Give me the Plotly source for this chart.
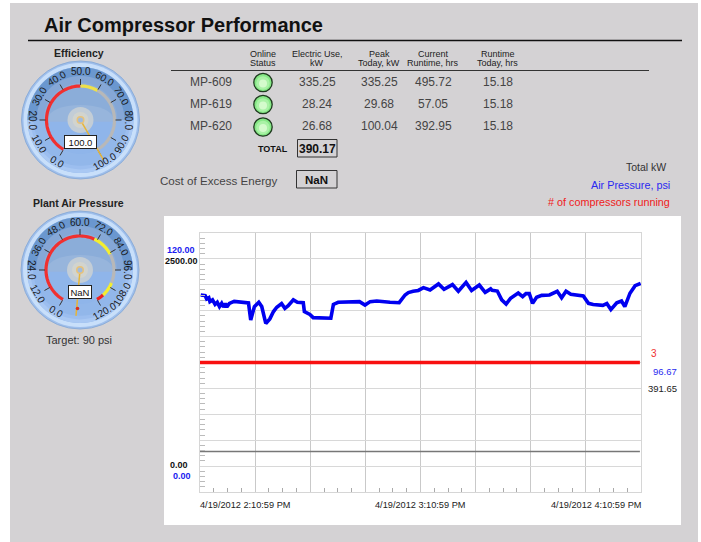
import math
import pandas as pd
import plotly.graph_objects as go

W, H = 701, 542
START = pd.Timestamp("2012-04-19 14:10:59")

# ---- data ----
pressure_minutes = [0.2,1.4,1.8,2.4,2.7,3.4,4.1,4.7,5.3,5.9,6.4,6.9,7.3,8.0,9.3,10.9,13.2,13.8,14.8,16.0,16.8,17.9,19.0,20.0,20.9,22.2,23.1,24.0,25.4,26.5,28.1,28.4,29.9,30.8,35.6,36.3,37.6,43.4,44.9,46.3,48.1,51.7,54.2,55.8,56.7,58.0,59.4,60.8,62.6,64.9,66.4,68.7,70.3,72.4,73.9,76.0,77.6,79.1,79.5,80.9,82.1,83.3,84.5,86.6,87.8,88.7,89.6,90.5,91.6,93.0,95.1,97.2,98.4,99.6,100.9,104.3,105.7,107.0,108.7,109.6,110.7,111.8,113.4,114.7,115.6,117.0,118.4,119.9]
pressure_psi = [91.3,91.0,89.4,90.0,88.2,89.0,86.9,87.9,85.9,87.4,85.7,87.3,85.7,87.4,88.3,87.9,87.6,79.7,85.9,87.9,85.9,78.1,80.2,83.6,85.6,87.3,85.1,86.3,89.0,87.9,87.7,83.6,82.3,80.8,80.5,86.9,87.9,88.2,86.6,88.2,88.5,87.9,87.7,91.3,92.4,93.0,93.4,94.7,93.6,96.4,93.9,96.1,93.0,97.1,93.4,95.9,92.5,94.1,93.4,93.1,89.0,87.1,89.7,92.2,90.5,91.9,91.9,87.4,90.2,91.1,91.3,93.0,90.0,93.0,91.6,90.8,87.4,86.9,86.9,86.5,87.3,84.5,87.7,88.5,85.9,92.1,95.6,96.67]
kw_minutes = [0.0, 50.0, 60.0, 66.0, 90.0, 119.7]
kw_values = [391.0, 391.0, 391.0, 396.0, 391.0, 391.65]
running_minutes = [0.0, 119.7]
running_values = [3, 3]

y_kw_max, y_psi_max, y_running_max = 2500, 120, 6

table_headers = [("Online", "Status"), ("Electric Use,", "kW"), ("Peak", "Today, kW"), ("Current", "Runtime, hrs"), ("Runtime", "Today, hrs")]
compressors = ["MP-609", "MP-619", "MP-620"]
electric_use = ["335.25", "28.24", "26.68"]
peak_today = ["335.25", "29.68", "100.04"]
current_runtime = ["495.72", "57.05", "392.95"]
runtime_today = ["15.18", "15.18", "15.18"]

eff_bands = [(0, 50, "#f03030"), (50, 60, "#eee04a"), (60, 100, "#b8b8b8")]
psi_bands = [(0, 70, "#f03030"), (70, 85, "#f4ee30"), (85, 105, "#b8b8b8"), (105, 115, "#f4ee30"), (115, 120, "#ee2020")]

# ---- helpers (pixel positions to paper fractions) ----
shapes, ann = [], []
def px(x): return x / W
def py(y): return 1 - y / H
def rect(x0, y0, x1, y1, fill=None, line=None, lw=1):
    shapes.append(dict(type="rect", xref="paper", yref="paper", x0=px(x0), x1=px(x1), y0=py(y0), y1=py(y1),
                       fillcolor=fill or "rgba(0,0,0,0)", line=dict(color=line or "rgba(0,0,0,0)", width=lw if line else 0), layer="below"))
def ell(cx, cy, rx, ry=None, fill=None, line=None, lw=1):
    ry = ry or rx
    shapes.append(dict(type="circle", xref="paper", yref="paper", x0=px(cx-rx), x1=px(cx+rx), y0=py(cy+ry), y1=py(cy-ry),
                       fillcolor=fill or "rgba(0,0,0,0)", line=dict(color=line or "rgba(0,0,0,0)", width=lw if line else 0), layer="below"))
def seg(x0, y0, x1, y1, color, lw=1):
    shapes.append(dict(type="line", xref="paper", yref="paper", x0=px(x0), x1=px(x1), y0=py(y0), y1=py(y1),
                       line=dict(color=color, width=lw), layer="below"))
def pt(cx, cy, r, a):
    t = math.radians(a)
    return cx + r * math.sin(t), cy - r * math.cos(t)
def arc_path(cx, cy, r, a0, a1, closed=False):
    n = max(4, int(abs(a1 - a0) / 3))
    pts = [pt(cx, cy, r, a0 + (a1 - a0) * i / n) for i in range(n + 1)]
    s = "M " + " L ".join(f"{px(x):.5f},{py(y):.5f}" for x, y in pts)
    return s + (" Z" if closed else "")
def arc(cx, cy, r, a0, a1, color, lw):
    shapes.append(dict(type="path", xref="paper", yref="paper", path=arc_path(cx, cy, r, a0, a1),
                       line=dict(color=color, width=lw), layer="below"))
def chord(cx, cy, r, a0, a1, fill):
    shapes.append(dict(type="path", xref="paper", yref="paper", path=arc_path(cx, cy, r, a0, a1, True),
                       fillcolor=fill, line=dict(color="rgba(0,0,0,0)", width=0), layer="below"))
def text(x, y, s, size=12, color="#333", bold=False, anchor="center", angle=0, **kw):
    if anchor == "left":
        x -= 2
    elif anchor == "right":
        x += 2
    ann.append(dict(xref="paper", yref="paper", x=px(x), y=py(y), text=f"<b>{s}</b>" if bold else s, showarrow=False,
                    xanchor=anchor, yanchor="middle", textangle=angle, font=dict(size=size, color=color, family="Liberation Sans"), **kw))

def gauge(cx, cy, vmax, step, bands, needle_value, label, box_w, box_y):
    ang = lambda v: -150 + 300 * v / vmax
    ell(cx, cy, 59, fill="#9fbfec", line="#8cadd8", lw=1)
    ell(cx, cy, 57, fill="#c8dffa")
    ell(cx, cy, 53, fill="#8fb5ea")
    for r, col in [(53, "#a9c8f3"), (50, "#9cbeef"), (47, "#92b7ea")]:
        ell(cx, cy + (53 - r) * -0.2, r, fill=col)
    chord(cx, cy, 53, -90, 90, "#6a97cf")
    chord(cx, cy, 44, -90, 90, "#85a7d6")
    chord(cx, cy, 37, -90, 90, "#8badd9")
    ell(cx, cy - 1, 33, 14, fill="#97b5dc")
    chord(cx, cy + 0.5, 33.5, 92, 268, "#8fb5ea")
    for lo, hi, col in bands:
        arc(cx, cy, 34, ang(lo), ang(hi), col, 3.2)
    v = 0
    while v <= vmax + 1e-6:
        a = ang(v)
        x0, y0 = pt(cx, cy, 35, a)
        x1, y1 = pt(cx, cy, 41, a)
        seg(x0, y0, x1, y1, "#333", 1)
        tx, ty = pt(cx, cy, 48, a)
        rot = a if -90 < a <= 90 else (a + 180 if a < 0 else a - 180)
        text(tx, ty, f"{v:.1f}", size=10, color="#1a1a1a", angle=rot)
        v += step
    ell(cx, cy, 13, fill="#c3cdd6")
    ell(cx, cy, 8, fill="#d2d4ce")
    x1, y1 = pt(cx, cy, 46, ang(needle_value))
    seg(cx, cy, x1, y1, "#e6b53a", 1.5)
    ell(cx, cy, 4, fill="#e8c27a")
    ell(cx, cy, 2.5, fill="#9fbbe0")
    ann.append(dict(xref="paper", yref="paper", x=px(cx), y=py(box_y), text=label, showarrow=False, xanchor="center", yanchor="middle",
                    width=box_w, height=10, bgcolor="white", bordercolor="#222", borderwidth=1, borderpad=1,
                    font=dict(size=9.5, color="#111", family="Liberation Sans")))

# ---- page panels ----
rect(10, 3, 698, 542, fill="#d4d2d4")
rect(164, 216, 681, 525, fill="white")
text(44, 25.5, "Air Compressor Performance", size=20, color="#111", bold=True, anchor="left")
seg(28, 40.5, 682, 40.5, "#111", 1.6)

# ---- gauges ----
text(79, 53, "Efficiency", size=10.5, color="#222", bold=True)
gauge(80.5, 120, 100, 10, eff_bands, 100, "100.0", 29, 141.5)
text(78, 203, "Plant Air Pressure", size=10.5, color="#222", bold=True)
gauge(80, 270, 120, 12, psi_bands, 134, "NaN", 20, 292)
ell(77.5, 308.5, 1.8, fill="#d83020")
text(79, 340, "Target: 90 psi", size=11, color="#333")

# ---- table ----
col_x = [263, 317, 379, 433, 498]
for x, (a, b) in zip(col_x, table_headers):
    text(x, 54, a, size=9, color="#222")
    text(x, 63, b, size=9, color="#222")
seg(171, 70.5, 649, 70.5, "#333", 1)
row_y = [81.5, 103.5, 126]
for i, y in enumerate(row_y):
    text(211, y, compressors[i], size=12, color="#444")
    ell(263, y + 1, 9.2, fill="#86e886", line="#1f3a1f", lw=1.3)
    ell(263, y + 1.5, 6.8, fill="#aaf2a6")
    ell(263, y + 2, 4, fill="#d4fbcc")
    text(317, y, electric_use[i], size=12, color="#444")
    text(379, y, peak_today[i], size=12, color="#444")
    text(433, y, current_runtime[i], size=12, color="#444")
    text(498, y, runtime_today[i], size=12, color="#444")
text(273, 148.5, "TOTAL", size=9, color="#111", bold=True)
rect(297.5, 139.5, 337, 157, line="#333", lw=1)
text(317, 148.5, "390.17", size=12, color="#111", bold=True)
text(160, 180.5, "Cost of Excess Energy", size=11.6, color="#444", anchor="left")
rect(296.5, 170.5, 337, 188, line="#333", lw=1)
text(316.5, 179.5, "NaN", size=11.5, color="#111", bold=True)

# ---- legend labels ----
text(666, 167, "Total kW", size=10.5, color="#333", anchor="right")
text(670, 185, "Air Pressure, psi", size=10.8, color="#2a2af0", anchor="right")
text(670, 202, "# of compressors running", size=10.8, color="#f02020", anchor="right")

# ---- chart labels ----
text(195, 250, "120.00", size=9, color="#1a1af0", bold=True, anchor="right")
text(198, 261, "2500.00", size=9, color="#111", bold=True, anchor="right")
text(188, 465, "0.00", size=9, color="#111", bold=True, anchor="right")
text(190.5, 476, "0.00", size=9, color="#1a1af0", bold=True, anchor="right")
text(654, 353.5, "3", size=10, color="#f03030", anchor="center")
text(677, 371, "96.67", size=9.5, color="#2a2af0", anchor="right")
text(677, 388.5, "391.65", size=9.5, color="#222", anchor="right")
text(200, 505, "4/19/2012 2:10:59 PM", size=9.2, color="#222", anchor="left")
text(420, 505, "4/19/2012 3:10:59 PM", size=9.2, color="#222", anchor="center")
text(640.5, 505, "4/19/2012 4:10:59 PM", size=9.2, color="#222", anchor="right")

def times(mins):
    return [START + pd.Timedelta(minutes=m) for m in mins]

fig = go.Figure()
fig.add_trace(go.Scatter(x=times(kw_minutes), y=kw_values, yaxis="y", mode="lines", line=dict(color="#777", width=1.6), showlegend=False))
fig.add_trace(go.Scatter(x=times(running_minutes), y=running_values, yaxis="y3", mode="lines", line=dict(color="#f81010", width=3.6), showlegend=False))
fig.add_trace(go.Scatter(x=times(pressure_minutes), y=pressure_psi, yaxis="y2", mode="lines", line=dict(color="#0000f0", width=3.6), showlegend=False))

dom_x = [px(200), px(641)]
dom_y = [py(492), py(233)]
fig.update_layout(
    width=W, height=H, margin=dict(l=0, r=0, t=0, b=0), autosize=False,
    paper_bgcolor="white", plot_bgcolor="rgba(0,0,0,0)", shapes=shapes, annotations=ann,
    xaxis=dict(domain=dom_x, type="date", range=[START, START + pd.Timedelta(minutes=120)],
               tick0=START, dtick=900000, showgrid=True, gridcolor="#c9c9c9", gridwidth=1.2, showticklabels=False,
               ticks="", showline=True, linecolor="#d6d6d6", mirror=True, zeroline=False,
               minor=dict(dtick=225000, tick0=START, ticks="inside", ticklen=4, tickcolor="#aaa", tickwidth=1, showgrid=False)),
    yaxis=dict(domain=dom_y, range=[0, y_kw_max], dtick=y_kw_max / 10, showgrid=True, gridcolor="#d8d8d8", gridwidth=1.4,
               showticklabels=False, ticks="", showline=True, linecolor="#d6d6d6", mirror=True, zeroline=False,
               minor=dict(dtick=y_kw_max / 50, ticks="inside", ticklen=5, tickcolor="#bbb", tickwidth=1, showgrid=False)),
    yaxis2=dict(domain=dom_y, overlaying="y", range=[0, y_psi_max], visible=False),
    yaxis3=dict(domain=dom_y, overlaying="y", range=[0, y_running_max], visible=False),
)
fig.write_html("out.html", config={"displayModeBar": False}, post_script="document.body.style.margin='0';document.body.style.overflow='hidden';")
